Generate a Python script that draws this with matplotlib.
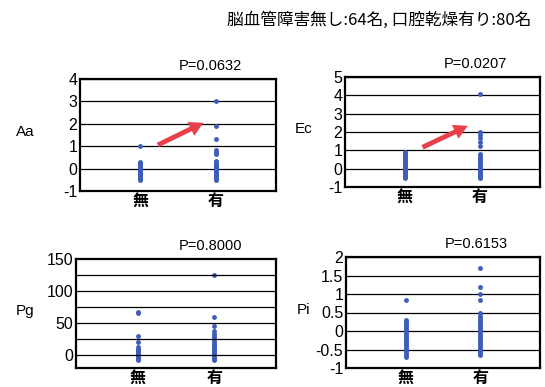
import matplotlib.pyplot as plt
from matplotlib.ticker import MultipleLocator, FuncFormatter

plt.rcParams['font.family'] = ['Liberation Sans', 'Noto Sans CJK JP']

groups = ['無', '有']
header = '脳血管障害無し:64名, 口腔乾燥有り:80名'

# values (0 = 無, 1 = 有)
aa_nashi = [1.0, 0.3, 0.25, 0.2, 0.15, 0.1, 0.05, 0.0, 0.0, 0.0, -0.05, -0.1, -0.15,
            -0.2, -0.25, -0.3, -0.35, -0.4, -0.45, -0.5]
aa_ari = [3.0, 1.9, 1.3, 0.85, 0.75, 0.65, 0.35, 0.3, 0.2, 0.15, 0.1, 0.05, 0.0, 0.0,
          -0.05, -0.1, -0.15, -0.2, -0.25, -0.3, -0.35, -0.4, -0.45, -0.5]
ec_nashi = [0.9, 0.85, 0.8, 0.7, 0.6, 0.5, 0.45, 0.4, 0.3, 0.25, 0.2, 0.1, 0.05, 0.0,
            -0.05, -0.1, -0.2, -0.25, -0.3, -0.4, -0.45, -0.5]
ec_ari = [4.1, 2.0, 1.85, 1.65, 1.45, 1.25, 0.8, 0.7, 0.6, 0.5, 0.4, 0.3, 0.2, 0.1, 0.05,
          0.0, -0.05, -0.1, -0.2, -0.25, -0.3, -0.4, -0.45, -0.5]
pg_nashi = [68, 65, 30, 20, 12, 10, 8, 6, 4, 2, 0, -2, -4, -6, -8]
pg_ari = [125, 60, 45, 38, 33, 30, 27, 24, 21, 18, 15, 12, 10, 8, 6, 4, 2, 0, -2, -4,
          -6, -8]
pi_nashi = [0.85, 0.3, 0.25, 0.2, 0.15, 0.1, 0.05, 0.0, -0.05, -0.1, -0.15, -0.2, -0.25,
            -0.3, -0.35, -0.4, -0.45, -0.5, -0.55, -0.6, -0.65, -0.7]
pi_ari = [1.7, 1.2, 1.0, 0.85, 0.5, 0.4, 0.35, 0.3, 0.25, 0.2, 0.15, 0.1, 0.05, 0.0,
          -0.05, -0.1, -0.15, -0.2, -0.25, -0.3, -0.35, -0.4, -0.45, -0.5, -0.55, -0.6,
          -0.65]

panels = [
    ('Aa', 'P=0.0632', aa_nashi, aa_ari, (-1, 4), 1, None, ((1.2, 1.0), (1.87, 2.1))),
    ('Ec', 'P=0.0207', ec_nashi, ec_ari, (-1, 5), 1, None, ((1.2, 1.1), (1.87, 2.4))),
    ('Pg', 'P=0.8000', pg_nashi, pg_ari, (-20, 150), 50, 25, None),
    ('Pi', 'P=0.6153', pi_nashi, pi_ari, (-1, 2), 0.5, None, None),
]

W, H = 545, 387
fig = plt.figure(figsize=(W / 100, H / 100), dpi=100)

# axes boxes in pixels: left, top, right, bottom
boxes = [(80, 79, 276, 191), (345, 77, 540, 187), (76, 259, 276, 368), (346, 257, 540, 368)]
title_x = [210, 475, 210, 476]
label_x = [25, 304, 25, 304]

for i, (name, ptxt, nashi, ari, ylim, step, minor, arrow) in enumerate(panels):
    l, t, r, b = boxes[i]
    ax = fig.add_axes([l / W, 1 - b / H, (r - l) / W, (b - t) / H])
    ax.plot([1] * len(nashi), nashi, 'o', color='#3e5cb8', ms=3.5, mec='none')
    ax.plot([2] * len(ari), ari, 'o', color='#3e5cb8', ms=3.5, mec='none')
    ax.set_xlim(0.2, 2.8)
    ax.set_ylim(*ylim)
    ax.set_xticks([1, 2])
    ax.set_xticklabels(groups, fontsize=11, fontweight='bold')
    ax.yaxis.set_major_locator(MultipleLocator(step))
    ax.yaxis.set_major_formatter(FuncFormatter(lambda v, p: '%g' % v))
    if minor:
        for v in range(0, 150, minor):
            ax.axhline(v, color='black', lw=0.9)
    else:
        ax.grid(axis='y', color='black', lw=0.9)
    ax.tick_params(length=0, labelsize=11.5, pad=2)
    for s in ax.spines.values():
        s.set_linewidth(1.6)
    ax.set_axisbelow(True)
    if arrow:
        ax.annotate('', xy=arrow[1], xytext=arrow[0],
                    arrowprops=dict(arrowstyle='simple,head_width=1.1,head_length=1.0,tail_width=0.35',
                                    color='#e8404a', lw=0))
    fig.text(title_x[i] / W, 1 - (t - 13) / H, ptxt, ha='center', va='center', fontsize=10.5)
    fig.text(label_x[i] / W, 1 - ((t + b) / 2 - 3) / H, name, ha='center', va='center', fontsize=11)

fig.text(379 / W, 1 - 20 / H, header, ha='center', va='center', fontsize=12,
         family=['Noto Sans CJK JP', 'DejaVu Sans'])

fig.savefig('out.png', dpi=100)
